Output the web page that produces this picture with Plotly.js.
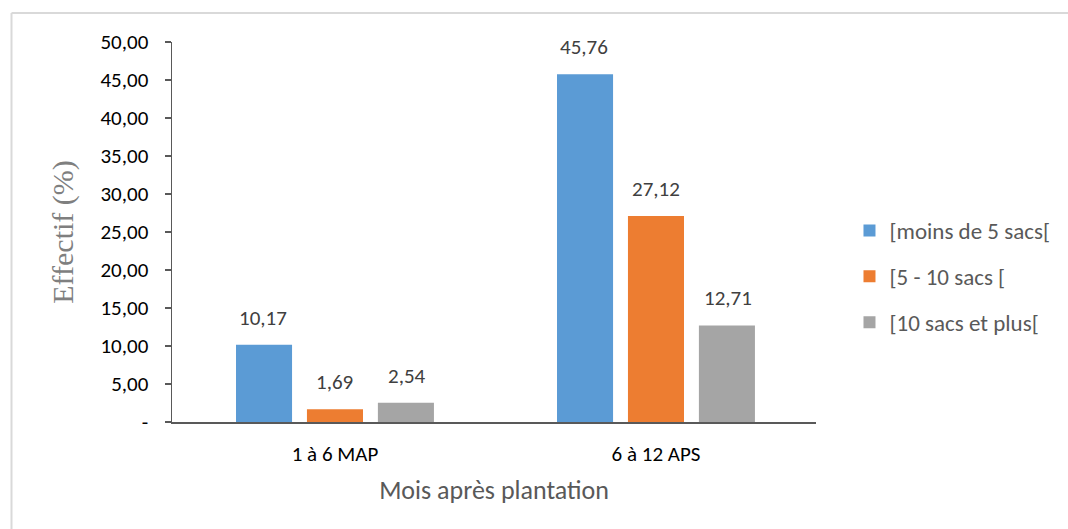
<!DOCTYPE html>
<html>
<head>
<meta charset="utf-8">
<script src="https://cdn.plot.ly/plotly-3.0.1.min.js"></script>
<style>html,body{margin:0;padding:0;background:#fff;}#chart{width:1068px;height:529px;}</style>
</head>
<body>
<div id="chart"></div>
<script>
const categories = ["1 à 6 MAP", "6 à 12 APS"];
const seriesNames = ["[moins de 5 sacs[", "[5 - 10 sacs [", "[10 sacs et plus["];
const moins5 = [10.17, 45.76];
const de5a10 = [1.69, 27.12];
const plus10 = [2.54, 12.71];
const tickVals = [0, 5, 10, 15, 20, 25, 30, 35, 40, 45, 50];
const tickText = ["-", "5,00", "10,00", "15,00", "20,00", "25,00", "30,00", "35,00", "40,00", "45,00", "50,00"];
const colors = ["#5b9bd5", "#ed7d31", "#a5a5a5"];

const fmt = v => v.toFixed(2).replace('.', ',');
const font = "Carlito, Lato, 'Open Sans', sans-serif";
const series = [moins5, de5a10, plus10];

const data = series.map((vals, i) => ({
  type: 'bar',
  name: seriesNames[i],
  x: categories,
  y: vals,
  marker: {color: colors[i]},
  legendgroup: 'g' + i,
  hoverinfo: 'none'
}));

// value labels above each bar (offset within the group matches the bar slots)
const slotPx = 72;
const annotations = [];
series.forEach((vals, i) => {
  vals.forEach((v, j) => {
    annotations.push({
      x: categories[j], y: v, xref: 'x', yref: 'y',
      text: fmt(v), showarrow: false,
      xanchor: 'center', yanchor: 'bottom',
      xshift: (i - 1) * slotPx, yshift: 12,
      font: {family: font, size: 21, color: '#404040'}
    });
  });
});

const layout = {
  width: 1068, height: 529,
  margin: {l: 172, r: 242, t: 42, b: 107},
  paper_bgcolor: '#fff', plot_bgcolor: '#fff',
  barmode: 'group',
  bargap: 0.337,
  bargroupgap: 0.21,
  font: {family: font},
  showlegend: true,
  legend: {
    x: 1.052, y: 0.383, xanchor: 'left', yanchor: 'middle',
    font: {family: font, size: 23, color: '#595959'},
    tracegroupgap: 13,
    traceorder: 'grouped',
    itemwidth: 30
  },
  xaxis: {
    range: [-0.5077, 1.4985],
    showline: true, linecolor: '#595959', linewidth: 1.5,
    ticks: '', showgrid: false, zeroline: false,
    ticklabelstandoff: 12,
    tickfont: {family: font, size: 21, color: '#000'},
    title: {text: 'Mois après plantation', font: {family: font, size: 26, color: '#595959'}, standoff: 15}
  },
  yaxis: {
    range: [0, 50],
    tickvals: tickVals, ticktext: tickText,
    showline: true, linecolor: '#595959', linewidth: 1.5,
    ticks: 'outside', ticklen: 6, tickcolor: '#595959', tickwidth: 1.5,
    ticklabelstandoff: 12,
    showgrid: false, zeroline: false,
    tickfont: {family: font, size: 21, color: '#000'},
    title: {text: 'Effectif (%)', font: {family: "'Liberation Serif', 'DejaVu Serif', serif", size: 30, color: '#7f7f7f'}, standoff: 18}
  },
  annotations: annotations,
  shapes: [
    {type: 'line', xref: 'paper', yref: 'paper', x0: -0.2492, x1: 1.4, y0: 1.0763, y1: 1.0763, line: {color: '#d9d9d9', width: 2}},
    {type: 'line', xref: 'paper', yref: 'paper', x0: -0.2492, x1: -0.2492, y0: -0.3, y1: 1.0763, line: {color: '#d9d9d9', width: 2}}
  ]
};

Plotly.newPlot('chart', data, layout, {displayModeBar: false, staticPlot: true});
</script>
</body>
</html>
